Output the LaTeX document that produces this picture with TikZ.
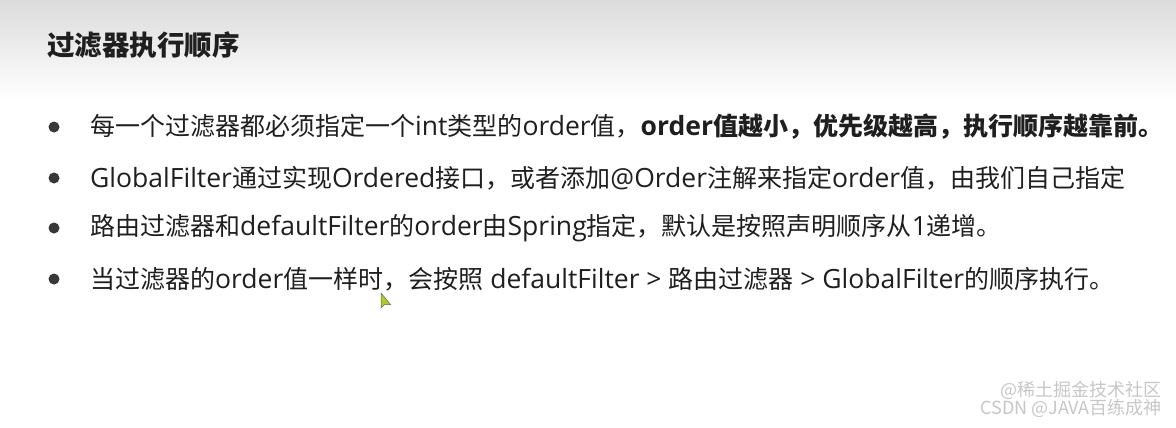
\documentclass[tikz,border=0pt]{standalone}
\usepackage{fontspec}
\setmainfont{Noto Sans CJK SC}
\newfontfamily\lat{Open Sans}
\newcommand{\lw}[1]{{\fontsize{26.5}{28}\selectfont\lat #1}}
\begin{document}
\begin{tikzpicture}[x=1pt,y=-1pt,
  bodytext/.style={anchor=west,inner sep=0pt,text=black!88,font=\fontsize{25}{28}\selectfont},
  dot/.style={circle,fill=black!78,minimum size=11pt,inner sep=0pt},
  wmark/.style={anchor=east,inner sep=0pt,text=black!22,font=\fontsize{18}{20}\selectfont}]
\useasboundingbox (0,0) rectangle (1176,428);
\fill[white] (0,0) rectangle (1176,428);
\shade[top color=black!14,bottom color=white] (0,0) rectangle (1176,100);
\node[anchor=west,inner sep=0pt,text=black!88,font=\fontsize{27.5}{30}\selectfont\bfseries] (title) at (47,45) {过滤器执行顺序};
\node[dot] (b1) at (54,127) {};
\node[dot] (b2) at (54,178) {};
\node[dot] (b3) at (54,228) {};
\node[dot] (b4) at (54,279) {};
\node[bodytext] (t1) at (90,127) {每一个过滤器都必须指定一个\lw{int}类型的\lw{order}值，\textbf{\lw{order}值越小，优先级越高，执行顺序越靠前。}};
\node[bodytext] (t2) at (90,178) {\lw{GlobalFilter}通过实现\lw{Ordered}接口，或者添加\lw{@Order}注解来指定\lw{order}值，由我们自己指定};
\node[bodytext] (t3) at (90,228) {路由过滤器和\lw{defaultFilter}的\lw{order}由\lw{Spring}指定，默认是按照声明顺序从\lw{1}递增。};
\node[bodytext] (t4) at (90,279) {当过滤器的\lw{order}值一样时，会按照\lw{ defaultFilter > }路由过滤器\lw{ > GlobalFilter}的顺序执行。};
\fill[yellow!70!green!90!black,draw=black!60,line width=0.5pt] (381,293) -- (381,308) -- (384.5,304.5) -- (390.5,304.5) -- cycle;
\node[wmark] (w1) at (1162,390) {@稀土掘金技术社区};
\node[wmark] (w2) at (1162,408) {CSDN @JAVA百练成神};
\end{tikzpicture}
\end{document}
